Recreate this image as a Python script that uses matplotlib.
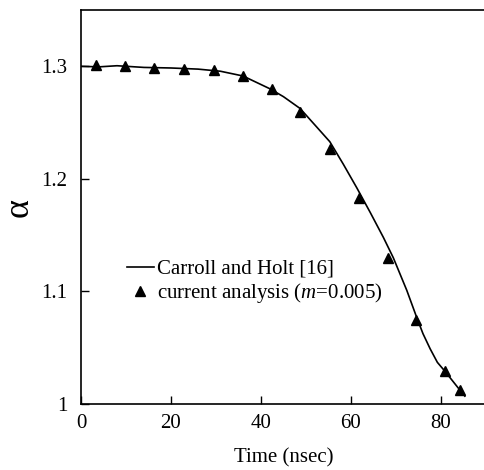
import matplotlib
matplotlib.use("Agg")
import matplotlib.pyplot as plt

# Carroll and Holt [16] curve
line_t = [0, 4, 8, 14, 20, 26, 31, 36, 42, 45, 48.7, 52.4, 55.3, 58.3, 61.3, 64.3, 67.2,
          69.4, 72.4, 74.6, 76.0, 77.6, 79.2, 80.9, 84.2, 85.3]
line_a = [1.300, 1.2995, 1.3005, 1.299, 1.2985, 1.2975, 1.2956, 1.2914, 1.280, 1.273,
          1.2625, 1.246, 1.233, 1.213, 1.192, 1.170, 1.148, 1.130, 1.101, 1.077, 1.0625,
          1.049, 1.037, 1.029, 1.0124, 1.007]

# current analysis (m=0.005)
pts_t = [3.3, 9.8, 16.3, 22.8, 29.5, 36.0, 42.4, 48.7, 55.3, 61.8, 68.2, 74.5, 81.0, 84.3]
pts_a = [1.3015, 1.300, 1.2985, 1.298, 1.297, 1.291, 1.2796, 1.259, 1.2266, 1.1826,
         1.130, 1.075, 1.029, 1.0124]

xticks = [0, 20, 40, 60, 80]
yticks = [1.0, 1.1, 1.2, 1.3]
yticklabels = ["1", "1.1", "1.2", "1.3"]

plt.rcParams['font.family'] = ['Liberation Serif', 'DejaVu Serif']
plt.rcParams['mathtext.fontset'] = 'custom'
plt.rcParams['mathtext.rm'] = 'Liberation Serif'
plt.rcParams['mathtext.it'] = 'Liberation Serif:italic'

fig = plt.figure(figsize=(4.85, 4.70), dpi=100)
ax = fig.add_axes([0.167, 0.1404, 0.835, 0.8383])

ax.plot(line_t, line_a, color='black', lw=1.2, label='Carroll and Holt [16]',
        solid_joinstyle='round')
ax.plot(pts_t, pts_a, linestyle='none', marker='^', color='black', markersize=7,
        label='current analysis ($m$=0.005)')

ax.set_xlim(0, 90)
ax.set_ylim(1.0, 1.35)
ax.set_xticks(xticks)
ax.set_yticks(yticks)
ax.set_yticklabels(yticklabels)
ax.tick_params(direction='in', length=6, width=1, labelsize=15)
ax.tick_params(axis='x', pad=7)
ax.tick_params(axis='y', pad=10)
ax.spines['right'].set_visible(False)
for s in ['left', 'bottom', 'top']:
    ax.spines[s].set_linewidth(1.2)

ax.set_xlabel('Time (nsec)', fontsize=15, labelpad=11)
ax.set_ylabel('α', fontsize=26, labelpad=4)

ax.legend(loc='upper left', bbox_to_anchor=(0.1125, 0.367), frameon=False, fontsize=15,
          handlelength=1.3, handletextpad=0.15, labelspacing=0.1, borderpad=0,
          borderaxespad=0)

fig.savefig('out.png', dpi=100)
